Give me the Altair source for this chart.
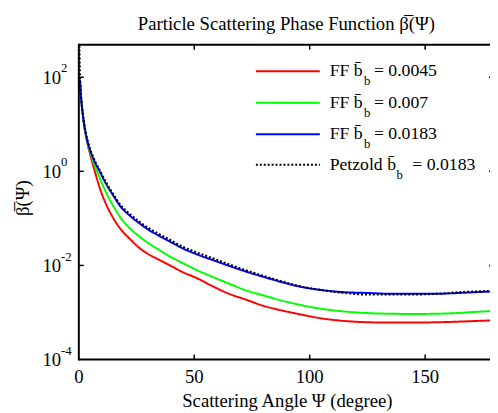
import altair as alt
import pandas as pd

# ---------------- data ----------------
ff_angle = [0.5, 1, 1.2, 1.5, 2, 2.5, 3, 4, 5, 7,
            9, 12, 15, 18, 22, 26, 30, 35, 40, 45,
            51, 58, 65, 72, 80, 88, 95, 105, 115, 125,
            135, 145, 155, 165, 172, 180]
ff_0045 = [90, 35, 27.5, 19.5, 12.3, 8.3, 5.9, 3.4, 2.2, 0.97,
           0.45, 0.19, 0.10, 0.06, 0.037, 0.024, 0.0175, 0.013, 0.0097, 0.0072,
           0.0054, 0.0036, 0.0025, 0.0019, 0.00138, 0.0011, 0.00093, 0.00075, 0.00066, 0.00062,
           0.00061, 0.00061, 0.00062, 0.00064, 0.00066, 0.00068]
ff_007 = [88, 34.5, 27, 19.5, 12.4, 8.4, 6.1, 3.6, 2.45, 1.28,
          0.73, 0.34, 0.18, 0.105, 0.062, 0.042, 0.030, 0.021, 0.015, 0.0112,
          0.0080, 0.0057, 0.0041, 0.0030, 0.0023, 0.00178, 0.00148, 0.0012, 0.00105, 0.00097,
          0.00094, 0.00093, 0.00094, 0.00098, 0.00103, 0.00108]
ff_0183 = [87, 34, 27, 19.5, 12.5, 8.6, 6.3, 3.9, 2.7, 1.55,
           1.0, 0.52, 0.30, 0.18, 0.115, 0.080, 0.058, 0.042, 0.031, 0.023,
           0.0173, 0.0130, 0.0098, 0.0075, 0.0057, 0.0044, 0.0036, 0.0030, 0.0027, 0.0026,
           0.0025, 0.0025, 0.0025, 0.0026, 0.0027, 0.0028]
petzold_angle = [0.1, 0.15, 0.2, 0.3, 0.4, 0.5, 0.7, 1, 1.2, 1.5,
                 2, 2.5, 3, 4, 5, 7, 9, 12, 15, 18,
                 22, 26, 30, 35, 40, 45, 51, 58, 65, 72,
                 80, 88, 95, 105, 115, 125, 135, 145, 155, 165,
                 172, 180]
petzold_0183 = [1800, 1000, 700, 350, 180, 110, 62, 40, 30, 21.5,
                13.5, 9.3, 6.8, 4.2, 2.9, 1.66, 1.07, 0.56, 0.325, 0.195,
                0.125, 0.087, 0.063, 0.046, 0.034, 0.025, 0.019, 0.0142, 0.0106, 0.0080,
                0.0060, 0.0046, 0.0037, 0.0030, 0.0026, 0.0024, 0.0024, 0.0024, 0.0025, 0.0027,
                0.0028, 0.0029]

series_names = ["FF 0.0045", "FF 0.007", "FF 0.0183", "Petzold 0.0183"]
series_colors = ["#ff0000", "#00ff00", "#0000ff", "#000000"]
series_dashes = [[1, 0], [1, 0], [1, 0], [2, 2]]

legend_prefix = ["FF b\u0304", "FF b\u0304", "FF b\u0304", "Petzold b\u0304"]
legend_value = ["= 0.0045", "= 0.007", "= 0.0183", "= 0.0183"]

x_ticks = [0, 50, 100, 150]
x_tick_labels = ["0", "50", "100", "150"]
y_ticks = [1e-4, 1e-2, 1, 1e2]
y_exponents = ["-4", "-2", "0", "2"]

title_text = "Particle Scattering Phase Function \u03b2\u0305(\u03a8)"
x_title = "Scattering Angle \u03a8 (degree)"
y_title = "\u03b2\u0305(\u03a8)"

# ---------------- layout ----------------
W, H = 418, 320
FONT = "Liberation Serif"
FS = 19
LFS = 18

rows = []
for name, ang, vals in [(series_names[0], ff_angle, ff_0045),
                        (series_names[1], ff_angle, ff_007),
                        (series_names[2], ff_angle, ff_0183),
                        (series_names[3], petzold_angle, petzold_0183)]:
    for a, v in zip(ang, vals):
        rows.append({"series": name, "deg": a, "val": v})
df = pd.DataFrame(rows)

xscale = alt.Scale(domain=[0, 178.1], nice=False, zero=False)
yscale = alt.Scale(type="log", domain=[1e-4, 490], nice=False)

lines = alt.Chart(df).mark_line(clip=True, strokeWidth=2, interpolate="monotone").encode(
    x=alt.X("deg:Q", scale=xscale, axis=None),
    y=alt.Y("val:Q", scale=yscale, axis=None),
    color=alt.Color("series:N", scale=alt.Scale(domain=series_names, range=series_colors), legend=None),
    strokeDash=alt.StrokeDash("series:N", scale=alt.Scale(domain=series_names, range=series_dashes), legend=None),
)

one = pd.DataFrame({"k": [0]})
# frame lines: top, left, bottom
top_line = alt.Chart(one).mark_rule(color="black", strokeWidth=2).encode(
    x=alt.value(0), x2=alt.value(W), y=alt.value(0))
left_line = alt.Chart(one).mark_rule(color="black", strokeWidth=2).encode(
    x=alt.value(0), y=alt.value(-1), y2=alt.value(H + 1))
bottom_line = alt.Chart(one).mark_rule(color="black", strokeWidth=2).encode(
    x=alt.value(0), x2=alt.value(W), y=alt.value(H))

# inward ticks
xt = pd.DataFrame({"deg": x_ticks[1:]})
yt = pd.DataFrame({"val": y_ticks[1:]})
tick_bottom = alt.Chart(xt).mark_rule(color="black", strokeWidth=1.5).encode(
    x=alt.X("deg:Q", scale=xscale, axis=None), y=alt.value(H - 5), y2=alt.value(H))
tick_top = alt.Chart(xt).mark_rule(color="black", strokeWidth=1.5).encode(
    x=alt.X("deg:Q", scale=xscale, axis=None), y=alt.value(0), y2=alt.value(5))
tick_left = alt.Chart(yt).mark_rule(color="black", strokeWidth=1.5).encode(
    y=alt.Y("val:Q", scale=yscale, axis=None), x=alt.value(0), x2=alt.value(5))
tick_right = alt.Chart(yt).mark_rule(color="black", strokeWidth=1.5).encode(
    y=alt.Y("val:Q", scale=yscale, axis=None), x=alt.value(W - 1), x2=alt.value(W))

# x tick labels
xlab = pd.DataFrame({"deg": x_ticks, "lab": x_tick_labels})
xlab_text = alt.Chart(xlab).mark_text(align="center", baseline="alphabetic", font=FONT,
                                      fontSize=FS, color="black").encode(
    x=alt.X("deg:Q", scale=xscale, axis=None), y=alt.value(H + 24), text="lab:N")

# y tick labels as 10 with superscript exponent
ylab = pd.DataFrame({"val": y_ticks, "base": ["10"] * len(y_ticks), "exp": y_exponents})
ylab_base = alt.Chart(ylab).mark_text(align="right", baseline="middle", font=FONT,
                                      fontSize=FS, color="black", dy=1).encode(
    y=alt.Y("val:Q", scale=yscale, axis=None), x=alt.value(-18), text="base:N")
ylab_exp = alt.Chart(ylab).mark_text(align="left", baseline="middle", font=FONT,
                                     fontSize=13, color="black", dy=-9).encode(
    y=alt.Y("val:Q", scale=yscale, axis=None), x=alt.value(-18), text="exp:N")

# titles
title = alt.Chart(pd.DataFrame({"t": [title_text]})).mark_text(
    align="center", baseline="alphabetic", font=FONT, fontSize=FS, color="black").encode(
    x=alt.value(211), y=alt.value(-15), text="t:N")
xtitle = alt.Chart(pd.DataFrame({"t": [x_title]})).mark_text(
    align="center", baseline="alphabetic", font=FONT, fontSize=FS, color="black").encode(
    x=alt.value(212), y=alt.value(368), text="t:N")
ytitle = alt.Chart(pd.DataFrame({"t": [y_title]})).mark_text(
    align="center", baseline="middle", font=FONT, fontSize=FS, color="black", angle=270).encode(
    x=alt.value(-57), y=alt.value(156), text="t:N")

# custom legend
leg = pd.DataFrame({
    "series": series_names,
    "prefix": legend_prefix,
    "value": legend_value,
    "sub": ["b"] * 4,
    "ly": [27, 59, 91, 122],
    "lx1": [180] * 4,
    "lx2": [245] * 4,
    "tx": [255] * 4,
    "sx": [290, 290, 290, 323],
    "ex": [300, 300, 300, 339],
})
leg_lines = alt.Chart(leg).mark_rule(strokeWidth=2).encode(
    x=alt.X("lx1:Q", scale=None), x2="lx2:Q", y=alt.Y("ly:Q", scale=None),
    color=alt.Color("series:N", scale=alt.Scale(domain=series_names, range=series_colors), legend=None),
    strokeDash=alt.StrokeDash("series:N", scale=alt.Scale(domain=series_names, range=series_dashes), legend=None),
)
leg_prefix = alt.Chart(leg).mark_text(align="left", baseline="middle", font=FONT,
                                      fontSize=LFS, color="black").encode(
    x=alt.X("tx:Q", scale=None), y=alt.Y("ly:Q", scale=None), text="prefix:N")
leg_sub = alt.Chart(leg).mark_text(align="left", baseline="middle", font=FONT,
                                   fontSize=13, color="black", dy=10).encode(
    x=alt.X("sx:Q", scale=None), y=alt.Y("ly:Q", scale=None), text="sub:N")
leg_value = alt.Chart(leg).mark_text(align="left", baseline="middle", font=FONT,
                                     fontSize=LFS, color="black").encode(
    x=alt.X("ex:Q", scale=None), y=alt.Y("ly:Q", scale=None), text="value:N")

chart = alt.layer(
    lines, top_line, left_line, bottom_line,
    tick_bottom, tick_top, tick_left, tick_right,
    xlab_text, ylab_base, ylab_exp, title, xtitle, ytitle,
    leg_lines, leg_prefix, leg_sub, leg_value,
).properties(
    width=W, height=H,
    padding={"left": 72, "top": 34, "right": 0, "bottom": 51},
    autosize=alt.AutoSizeParams(type="none"),
    background="white",
).configure_view(stroke=None)

chart.save("out.html", embed_options={"renderer": "svg", "actions": False})
